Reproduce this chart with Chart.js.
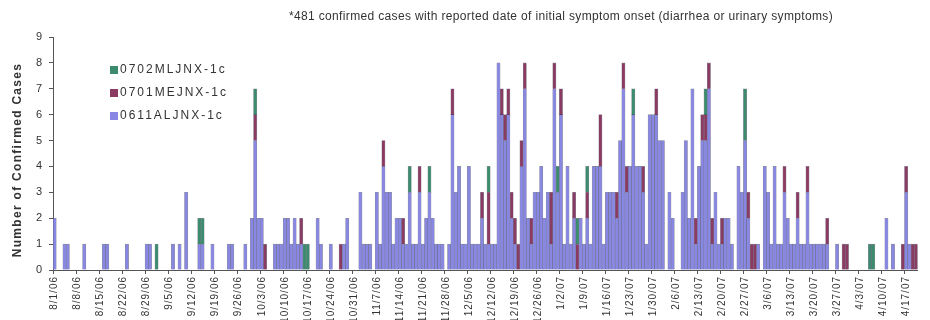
<!DOCTYPE html>
<html>
<head>
<meta charset="utf-8">
<script src="https://cdn.jsdelivr.net/npm/chart.js@4.4.1/dist/chart.umd.min.js"></script>
<style>
  html, body { margin: 0; padding: 0; background: #ffffff; }
  #wrap { position: relative; width: 930px; height: 320px; }
</style>
</head>
<body>
<div id="wrap"><canvas id="chart" width="930" height="320"></canvas></div>
<script>
// Daily confirmed cases by strain, 8/1/06 - 4/21/07 (one row per week)
const titleText = '*481 confirmed cases with reported date of initial symptom onset (diarrhea or urinary symptoms)';
const yAxisTitle = 'Number of Confirmed Cases';
const startDate = [2006, 7, 1]; // year, month index, day of first category

const weekLabels = [
  '8/1/06', '8/8/06', '8/15/06', '8/22/06', '8/29/06', '9/5/06', '9/12/06', '9/19/06',
  '9/26/06', '10/3/06', '10/10/06', '10/17/06', '10/24/06', '10/31/06', '11/7/06',
  '11/14/06', '11/21/06', '11/28/06', '12/5/06', '12/12/06', '12/19/06', '12/26/06',
  '1/2/07', '1/9/07', '1/16/07', '1/23/07', '1/30/07', '2/6/07', '2/13/07', '2/20/07',
  '2/27/07', '3/6/07', '3/13/07', '3/20/07', '3/27/07', '4/3/07', '4/10/07', '4/17/07'
];

const strain0611 = [
  2,0,0,1,1,0,0,  0,0,1,0,0,0,0,  0,1,1,0,0,0,0,  0,1,0,0,0,0,0,
  1,1,0,0,0,0,0,  0,1,0,1,0,3,0,  0,0,1,1,0,0,1,  0,0,0,0,1,1,0,
  0,0,1,0,2,5,2,  2,0,0,0,1,1,1,  2,2,1,2,1,1,0,  0,0,0,2,1,0,0,
  1,0,0,0,1,2,0,  0,0,3,1,1,1,0,  3,1,4,3,3,1,2,  2,1,1,3,1,1,3,
  1,2,3,2,1,1,1,  0,1,6,3,4,1,1,  4,1,1,1,2,1,1,  1,1,8,6,5,6,2,
  1,0,4,7,2,1,3,  3,4,2,3,1,7,3,  6,1,4,1,2,0,2,  1,2,1,4,4,4,1,
  3,3,3,2,5,7,3,  4,6,4,4,3,1,6,  6,6,5,5,0,3,2,  0,0,3,5,2,7,1,
  4,5,5,7,1,3,1,  1,2,2,1,0,4,3,  5,2,0,0,1,0,4,  3,1,4,1,1,3,2,
  1,1,2,1,1,3,1,  1,1,1,1,1,0,0,  1,0,0,0,0,0,0,  0,0,0,0,0,0,0,
  0,2,0,1,0,0,0,  3,1,0,0
];

const strain0701 = [
  0,0,0,0,0,0,0,  0,0,0,0,0,0,0,  0,0,0,0,0,0,0,  0,0,0,0,0,0,0,
  0,0,0,0,0,0,0,  0,0,0,0,0,0,0,  0,0,0,0,0,0,0,  0,0,0,0,0,0,0,
  0,0,0,0,0,1,0,  0,1,0,0,0,0,0,  0,0,0,0,0,1,0,  0,0,0,0,0,0,0,
  0,0,0,1,0,0,0,  0,0,0,0,0,0,0,  0,0,1,0,0,0,0,  0,1,0,0,0,0,1,
  0,0,0,0,0,0,0,  0,0,1,0,0,0,0,  0,0,0,0,1,0,2,  0,0,0,1,1,1,1,
  1,1,1,1,0,1,0,  0,0,0,0,2,1,0,  1,0,0,0,1,1,0,  0,1,0,0,0,2,0,
  0,0,0,1,0,1,1,  0,0,0,0,1,0,0,  0,1,0,0,0,0,0,  0,0,0,0,0,0,1,
  0,1,1,1,1,0,0,  1,0,0,0,0,0,0,  0,1,1,1,0,0,0,  0,0,0,0,0,1,0,
  0,0,1,0,0,1,0,  0,0,0,0,1,0,0,  0,0,1,1,0,0,0,  0,0,0,0,0,0,0,
  0,0,0,0,0,0,1,  1,0,1,1
];

const strain0702 = [
  0,0,0,0,0,0,0,  0,0,0,0,0,0,0,  0,0,0,0,0,0,0,  0,0,0,0,0,0,0,
  0,0,0,1,0,0,0,  0,0,0,0,0,0,0,  0,0,1,1,0,0,0,  0,0,0,0,0,0,0,
  0,0,0,0,0,1,0,  0,0,0,0,0,0,0,  0,0,0,0,0,0,1,  1,0,0,0,0,0,0,
  0,0,0,0,0,0,0,  0,0,0,0,0,0,0,  0,0,0,0,0,0,0,  0,0,0,1,0,0,0,
  0,0,1,0,0,0,0,  0,0,0,0,0,0,0,  0,0,0,0,0,0,1,  0,0,0,0,0,0,0,
  0,0,0,0,0,0,0,  0,0,0,0,0,0,1,  0,0,0,0,0,1,0,  0,1,0,0,0,0,0,
  0,0,0,0,0,0,0,  0,1,0,0,0,0,0,  0,0,0,0,0,0,0,  0,0,0,0,0,0,0,
  0,0,1,0,0,0,0,  0,0,0,0,0,0,0,  2,0,0,0,0,0,0,  0,0,0,0,0,0,0,
  0,0,0,0,0,0,0,  0,0,0,0,0,0,0,  0,0,0,0,0,0,0,  0,0,0,1,1,0,0,
  0,0,0,0,0,0,0,  0,0,0,0
];

const seriesNames = ['0611ALJNX-1c', '0701MEJNX-1c', '0702MLJNX-1c'];
const seriesColors = ['#8888e4', '#8b3a62', '#3b8c6c'];

// one category per calendar day
const categories = strain0611.map((_, i) => {
  const d = new Date(startDate[0], startDate[1], startDate[2] + i);
  return (d.getMonth() + 1) + '/' + d.getDate() + '/' + String(d.getFullYear()).slice(2);
});

const FONT = '"Liberation Sans", Arial, Helvetica, sans-serif';

// title, rotated axis title and the inset legend
const overlay = {
  id: 'overlay',
  beforeDraw(chart) { chart.ctx.letterSpacing = '1px'; },
  beforeDatasetsDraw(chart) { chart.ctx.letterSpacing = '0px'; },
  afterDraw(chart) {
    const ctx = chart.ctx;
    ctx.save();
    ctx.fillStyle = '#333333';
    ctx.textBaseline = 'middle';

    ctx.letterSpacing = '0.35px';
    ctx.font = '12px ' + FONT;
    ctx.textAlign = 'center';
    ctx.fillText(titleText, 561, 17);

    ctx.save();
    ctx.translate(18, 160);
    ctx.rotate(-Math.PI / 2);
    ctx.font = 'bold 12px ' + FONT;
    ctx.letterSpacing = '1.3px';
    ctx.fillText(yAxisTitle, 0, 0);
    ctx.restore();

    ctx.textAlign = 'left';
    ctx.font = '12px ' + FONT;
    ctx.letterSpacing = '2px';
    const sets = chart.data.datasets.slice().reverse();
    sets.forEach((ds, k) => {
      const y = 70 + k * 23;
      ctx.fillStyle = ds.backgroundColor;
      ctx.fillRect(110, y - 4, 8, 8);
      ctx.fillStyle = '#333333';
      ctx.fillText(ds.label, 120, y);
    });
    ctx.restore();
  }
};

const makeSet = (k, values) => ({
  label: seriesNames[k],
  data: values.map(v => v || null),
  backgroundColor: seriesColors[k],
  borderColor: 'rgba(45,45,75,0.55)',
  borderWidth: 0.6,
  barPercentage: 1.0,
  categoryPercentage: 1.0
});

new Chart(document.getElementById('chart'), {
  type: 'bar',
  data: {
    labels: categories,
    datasets: [makeSet(0, strain0611), makeSet(1, strain0701), makeSet(2, strain0702)]
  },
  options: {
    responsive: false,
    animation: false,
    layout: { padding: { top: 37, right: 2, left: 0, bottom: 0 } },
    plugins: { legend: { display: false }, tooltip: { enabled: false }, title: { display: false } },
    scales: {
      x: {
        stacked: true,
        offset: true,
        afterFit(scale) { scale.height = 50; },
        border: { display: true, color: '#555555', width: 1 },
        grid: {
          offset: true,
          drawOnChartArea: false,
          drawTicks: true,
          tickLength: 4,
          color: (c) => (c.index % 7 === 0 ? '#555555' : 'rgba(0,0,0,0)')
        },
        ticks: {
          autoSkip: false,
          maxRotation: 90,
          minRotation: 90,
          padding: 2,
          color: '#333333',
          font: { family: FONT, size: 10 },
          callback: (v, i) => (i % 7 === 0 ? weekLabels[i / 7] : '')
        }
      },
      y: {
        stacked: true,
        min: 0,
        max: 9,
        afterFit(scale) { scale.width = 53; },
        border: { display: true, color: '#555555', width: 1 },
        grid: { drawOnChartArea: false, drawTicks: true, tickLength: 4, color: '#555555' },
        ticks: {
          stepSize: 1,
          padding: 6,
          color: '#333333',
          font: { family: FONT, size: 11 }
        }
      }
    }
  },
  plugins: [overlay]
});
</script>
</body>
</html>
